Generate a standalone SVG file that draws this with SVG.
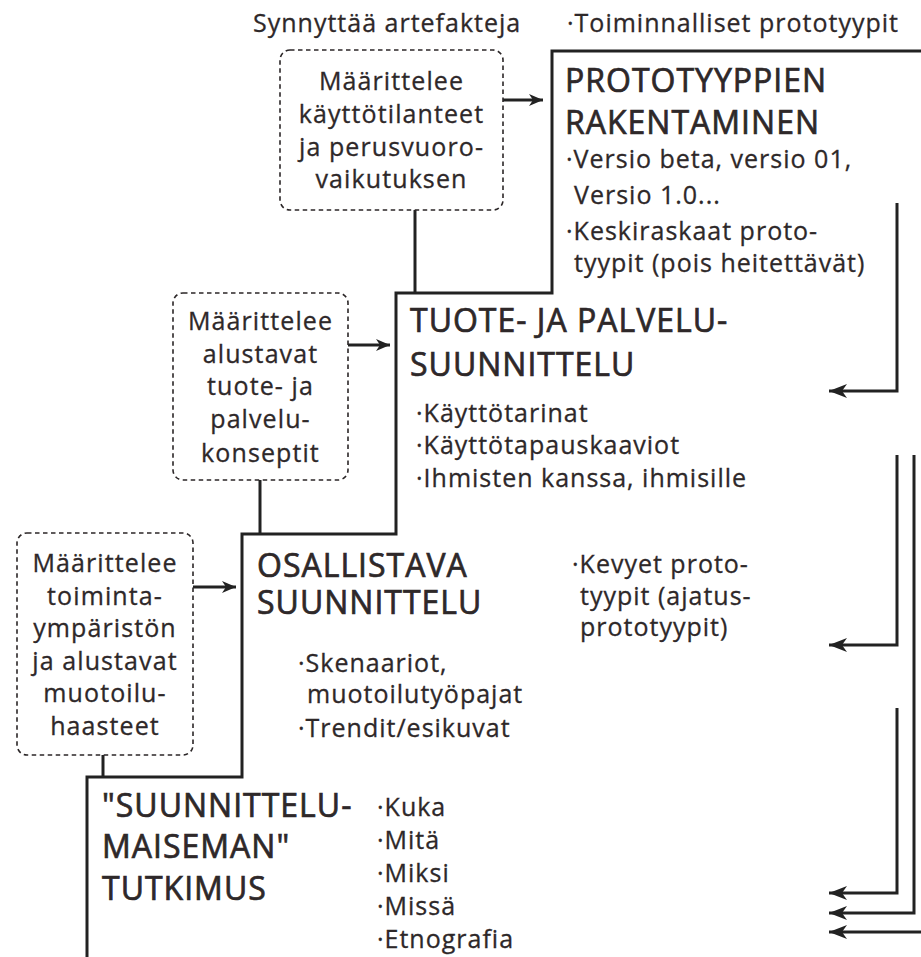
<svg xmlns="http://www.w3.org/2000/svg" width="921" height="957" viewBox="0 0 921 957">
<style>
text{font-family:"Open Sans","Noto Sans","DejaVu Sans",sans-serif;fill:#2e2829}
.b{font-size:25px;letter-spacing:1px;stroke:#2e2829;stroke-width:0.3px}
.h{font-size:32px;letter-spacing:1px;stroke:#2e2829;stroke-width:0.7px}
.c{font-size:25px;letter-spacing:1.1px;stroke:#2e2829;stroke-width:0.3px;text-anchor:middle}
.box{fill:none;stroke:#2b2627;stroke-width:1.6;stroke-dasharray:4.5 3.5}
.ln{fill:none;stroke:#222;stroke-width:3}
.ar{fill:none;stroke:#222;stroke-width:3}
</style>
<defs>
<marker id="ah" markerUnits="userSpaceOnUse" markerWidth="22" markerHeight="16" viewBox="-18 -8 22 16" refX="0" refY="0" orient="auto">
<path d="M0,0 L-18,-7 L-13,0 L-18,7 Z" fill="#222"/>
</marker>
<marker id="as" markerUnits="userSpaceOnUse" markerWidth="18" markerHeight="14" viewBox="-14 -7 18 14" refX="0" refY="0" orient="auto">
<path d="M0,0 L-14,-6 L-10,0 L-14,6 Z" fill="#222"/>
</marker>
</defs>

<g id="connectors">
<path class="ln" d="M921,51 H552 V293 H396 V534 H242 V777 H87 V957"/>
<path class="ln" d="M415,210 V293"/>
<path class="ln" d="M260,480 V534"/>
<path class="ln" d="M103,755 V777"/>
<path class="ar" d="M503,100 H543" marker-end="url(#as)"/>
<path class="ar" d="M348,345 H390" marker-end="url(#as)"/>
<path class="ar" d="M193,587 H236" marker-end="url(#as)"/>
<path class="ar" d="M897,203 V391 H829" marker-end="url(#ah)"/>
<path class="ar" d="M897,455 V645 H829" marker-end="url(#ah)"/>
<path class="ar" d="M897,708 V893 H829" marker-end="url(#ah)"/>
<path class="ar" d="M914,455 V913 H829" marker-end="url(#ah)"/>
<path class="ar" d="M921,932 H829" marker-end="url(#ah)"/>
</g>

<g id="top-labels">
<text class="b" x="253" y="32">Synnyttää artefakteja</text>
<text class="b" x="567" y="32">·Toiminnalliset prototyypit</text>
</g>

<g id="box1">
<rect class="box" x="280" y="50" width="223" height="160" rx="10"/>
<text class="c" x="391.5" y="90">Määrittelee</text>
<text class="c" x="391.5" y="123">käyttötilanteet</text>
<text class="c" x="391.5" y="156">ja perusvuoro-</text>
<text class="c" x="391.5" y="188">vaikutuksen</text>
</g>

<g id="box2">
<rect class="box" x="173" y="293" width="175" height="187" rx="10"/>
<text class="c" x="260.5" y="330">Määrittelee</text>
<text class="c" x="260.5" y="363">alustavat</text>
<text class="c" x="260.5" y="395">tuote- ja</text>
<text class="c" x="260.5" y="428">palvelu-</text>
<text class="c" x="260.5" y="462">konseptit</text>
</g>

<g id="box3">
<rect class="box" x="17" y="533" width="176" height="222" rx="10"/>
<text class="c" x="105" y="572">Määrittelee</text>
<text class="c" x="105" y="605">toiminta-</text>
<text class="c" x="105" y="637">ympäristön</text>
<text class="c" x="105" y="670">ja alustavat</text>
<text class="c" x="105" y="702">muotoilu-</text>
<text class="c" x="105" y="735">haasteet</text>
</g>

<g id="stage4">
<text class="h" x="565" y="92">PROTOTYYPPIEN</text>
<text class="h" x="565" y="134">RAKENTAMINEN</text>
<text class="b" x="566" y="168">·Versio beta, versio 01,</text>
<text class="b" x="574" y="204">Versio 1.0...</text>
<text class="b" x="566" y="240">·Keskiraskaat proto-</text>
<text class="b" x="574" y="272">tyypit (pois heitettävät)</text>
</g>

<g id="stage3">
<text class="h" x="410" y="332">TUOTE- JA PALVELU-</text>
<text class="h" x="410" y="376">SUUNNITTELU</text>
<text class="b" x="416" y="422">·Käyttötarinat</text>
<text class="b" x="416" y="454">·Käyttötapauskaaviot</text>
<text class="b" x="416" y="487">·Ihmisten kanssa, ihmisille</text>
</g>

<g id="light-prototypes">
<text class="b" x="572" y="573">·Kevyet proto-</text>
<text class="b" x="580" y="605">tyypit (ajatus-</text>
<text class="b" x="580" y="636">prototyypit)</text>
</g>

<g id="stage2">
<text class="h" x="257" y="577">OSALLISTAVA</text>
<text class="h" x="257" y="614">SUUNNITTELU</text>
<text class="b" x="298" y="672">·Skenaariot,</text>
<text class="b" x="307" y="703">muotoilutyöpajat</text>
<text class="b" x="298" y="737">·Trendit/esikuvat</text>
</g>

<g id="stage1">
<text class="h" x="102" y="817">"SUUNNITTELU-</text>
<text class="h" x="102" y="858">MAISEMAN"</text>
<text class="h" x="102" y="900">TUTKIMUS</text>
<text class="b" x="377" y="816">·Kuka</text>
<text class="b" x="377" y="849">·Mitä</text>
<text class="b" x="377" y="882">·Miksi</text>
<text class="b" x="377" y="915">·Missä</text>
<text class="b" x="377" y="948">·Etnografia</text>
</g>
</svg>
